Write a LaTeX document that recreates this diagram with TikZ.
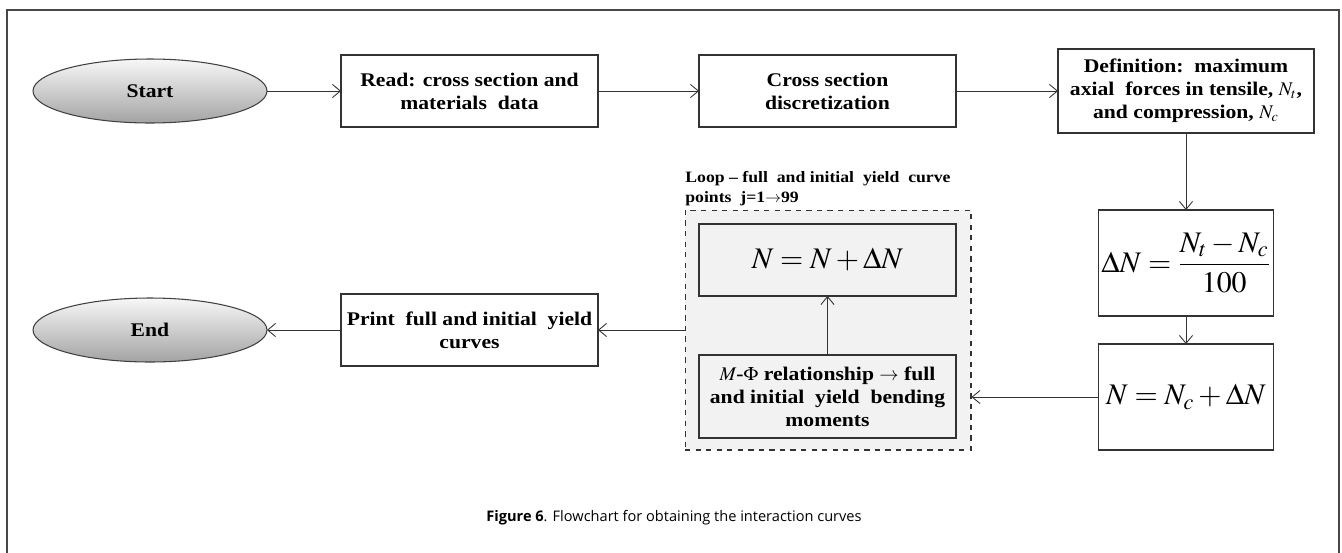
\documentclass[tikz,border=0pt]{standalone}
\usepackage{mathptmx}
\usepackage[no-math]{fontspec}
\usepackage{tikz}
\usetikzlibrary{arrows.meta,shapes.geometric}
\newfontfamily\boxfont{Liberation Serif}[FakeStretch=1.12, Ligatures=TeX]
\newfontfamily\capfont{Open Sans}
\def\boxtext{\boxfont\bfseries\fontsize{11}{13}\selectfont}
\def\mathtext{\fontsize{17}{20}\selectfont}

\tikzset{
	box/.style={draw=black!80, line width=0.8pt, fill=white, inner sep=0pt, outer sep=0pt,
		align=center, minimum width=5.14cm, minimum height=1.44cm, font=\boxtext},
	inbox/.style={box, fill=black!5},
	mathbox/.style={box, minimum width=3.5cm, minimum height=2.12cm, font=\mathtext},
	term/.style={ellipse, draw=black!75, line width=0.6pt, inner sep=0pt, outer sep=0pt,
		minimum width=4.68cm, minimum height=1.28cm, top color=black!3, bottom color=black!36,
		font=\boxtext},
	loopbox/.style={draw=black!80, dashed, line width=0.6pt, fill=black!5, inner sep=0pt,
		minimum width=5.72cm, minimum height=4.8cm},
	flow/.style={draw=black!80, line width=0.5pt, -{Straight Barb[length=4.5pt,width=7.5pt]}},
	frame/.style={draw=black!72, line width=1pt}
}

\begin{document}
\begin{tikzpicture}[x=0.02cm, y=-0.02cm]
		%%%%% FRAME %%%%%
		\useasboundingbox (0, 0) rectangle (1342, 552);
		\draw[frame] (7, 10) rectangle (1339, 560);
		
		%%%%% TOP ROW %%%%%
		\node[term] (start) at (150, 91) {Start};
		\node[box] (read) at (469.5, 91) {Read: cross section and\\materials\ \ data};
		\node[box] (cross) at (827.5, 91) {Cross section\\discretization};
		\node[box, minimum width=5.12cm, minimum height=1.68cm] (def) at (1186, 91)
			{Definition:\ \ maximum\\axial\ \ forces in tensile, $N_t$,\\and compression, $N_c$};
		
		%%%%% RIGHT COLUMN %%%%%
		\node[mathbox] (dN) at (1186, 263) {$\displaystyle \Delta N=\frac{N_t-N_c}{100}$};
		\node[mathbox] (nNc) at (1186, 397) {$N=N_c+\Delta N$};
		
		%%%%% LOOP %%%%%
		\node[loopbox] (loop) at (828, 330) {};
		\node[anchor=south west, align=left, inner sep=0pt,
			font=\boxfont\bfseries\fontsize{9}{11.3}\selectfont] (looplbl) at (685, 206)
			{Loop \textendash\ full\ \ and initial\ \ yield\ \ curve\\points\ \ j=1$\rightarrow$99};
		\node[inbox, font=\mathtext] (nN) at (827.5, 260) {$N=N+\Delta N$};
		\node[inbox, minimum height=1.66cm] (mphi) at (827.5, 396.5)
			{$M$-$\Phi$ relationship $\rightarrow$ full\\and initial\ \ yield\ \ bending\\moments};
		
		%%%%% BOTTOM ROW %%%%%
		\node[box] (print) at (469.5, 330) {Print\ \ full and initial\ \ yield\\curves};
		\node[term] (end) at (150, 330) {End};
		
		%%%%% CONNECTORS %%%%%
		\draw[flow] (start) -- (read);
		\draw[flow] (read) -- (cross);
		\draw[flow] (cross) -- (def);
		\draw[flow] (def) -- (dN);
		\draw[flow] (dN) -- (nNc);
		\draw[flow] (nNc.west) -- (nNc.west -| loop.east);
		\draw[flow] (mphi) -- (nN);
		\draw[flow] (loop) -- (print);
		\draw[flow] (print) -- (end);
		
		%%%%% CAPTION %%%%%
		\node[font=\capfont\fontsize{8.3}{10}\selectfont] (caption) at (674, 518)
			{\textbf{Figure 6}. Flowchart for obtaining the interaction curves};
	\end{tikzpicture}
\end{document}
